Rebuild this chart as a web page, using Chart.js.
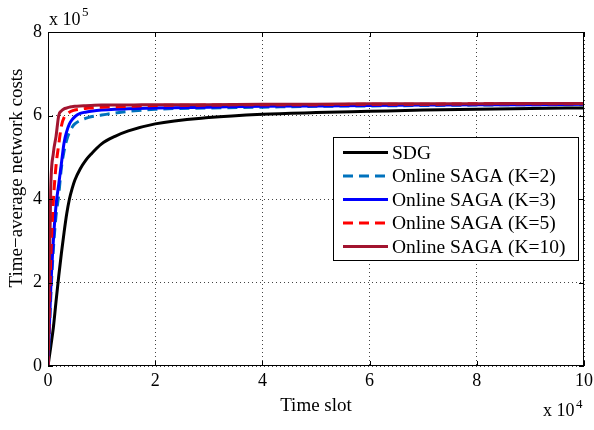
<!DOCTYPE html>
<html>
<head>
<meta charset="utf-8">
<script src="https://cdn.jsdelivr.net/npm/chart.js@4/dist/chart.umd.min.js"></script>
<style>
  html, body { margin: 0; padding: 0; background: #fff; }
  canvas { display: block; }
</style>
</head>
<body>
<canvas id="chart" width="594" height="430"></canvas>
<script>
// time slots in units of 10^4, costs in units of 10^5
const slots = [0, 0.05, 0.1, 0.15, 0.2, 0.25, 0.3, 0.35, 0.4, 0.45, 0.5, 0.6, 0.7, 0.8, 1, 1.25, 1.5, 2, 3, 4, 5, 6, 7, 8, 9, 10]
const sdg     = [0, 0.45, 0.92, 1.55, 2.15, 2.7, 3.2, 3.65, 4.0, 4.25, 4.45, 4.72, 4.92, 5.07, 5.32, 5.5, 5.63, 5.8, 5.95, 6.03, 6.07, 6.1, 6.13, 6.15, 6.17, 6.18]
const sagaK2  = [0, 1.6, 2.8, 3.6, 4.1, 4.75, 5.15, 5.42, 5.6, 5.72, 5.8, 5.88, 5.93, 5.97, 6.01, 6.06, 6.1, 6.15, 6.18, 6.2, 6.22, 6.23, 6.24, 6.25, 6.26, 6.26]
const sagaK3  = [0, 1.8, 3.0, 3.85, 4.35, 4.85, 5.35, 5.62, 5.8, 5.9, 5.97, 6.05, 6.08, 6.1, 6.13, 6.15, 6.16, 6.18, 6.2, 6.22, 6.23, 6.24, 6.25, 6.26, 6.26, 6.27]
const sagaK5  = [0, 2.5, 3.95, 4.8, 5.3, 5.75, 5.95, 6.03, 6.08, 6.11, 6.13, 6.15, 6.17, 6.18, 6.2, 6.21, 6.22, 6.24, 6.25, 6.26, 6.26, 6.27, 6.27, 6.28, 6.28, 6.28]
const sagaK10 = [0, 4.2, 5.1, 5.5, 6.0, 6.11, 6.16, 6.18, 6.2, 6.21, 6.22, 6.23, 6.235, 6.24, 6.25, 6.25, 6.25, 6.26, 6.26, 6.27, 6.27, 6.28, 6.28, 6.28, 6.29, 6.29]
const xTicks = [0, 2, 4, 6, 8, 10]
const yTicks = [0, 2, 4, 6, 8]

const FONT = "'Liberation Serif', 'Times New Roman', serif"

const points = (ys) => slots.map((x, i) => ({ x: x, y: ys[i] }))

const series = [
  { label: 'SDG', data: sdg, color: '#000000', dash: [], order: 4 },
  { label: 'Online SAGA (K=2)', data: sagaK2, color: '#0072BD', dash: [10, 6], order: 3 },
  { label: 'Online SAGA (K=3)', data: sagaK3, color: '#0000FF', dash: [], order: 2 },
  { label: 'Online SAGA (K=5)', data: sagaK5, color: '#FF0000', dash: [10, 6], order: 1 },
  { label: 'Online SAGA (K=10)', data: sagaK10, color: '#A2142F', dash: [], order: 0 },
]

// frame, inward ticks, exponents, axis titles and legend, matlab style
const decorations = {
  id: 'decorations',
  afterDraw(chart) {
    const { ctx, chartArea: a, scales } = chart
    ctx.save()
    ctx.strokeStyle = '#000'
    ctx.lineWidth = 1
    ctx.setLineDash([])
    ctx.strokeRect(a.left + 0.5, a.top + 0.5, a.right - a.left - 1, a.bottom - a.top - 1)

    ctx.beginPath()
    xTicks.forEach((t) => {
      const px = Math.round(scales.x.getPixelForValue(t)) + 0.5
      ctx.moveTo(px, a.bottom); ctx.lineTo(px, a.bottom - 5)
      ctx.moveTo(px, a.top); ctx.lineTo(px, a.top + 5)
    })
    yTicks.forEach((t) => {
      const py = Math.round(scales.y.getPixelForValue(t)) + 0.5
      ctx.moveTo(a.left, py); ctx.lineTo(a.left + 5, py)
      ctx.moveTo(a.right, py); ctx.lineTo(a.right - 5, py)
    })
    ctx.stroke()

    ctx.fillStyle = '#000'
    ctx.textBaseline = 'alphabetic'
    ctx.textAlign = 'left'
    ctx.font = '18px ' + FONT
    ctx.fillText('x 10', 49, 25)
    ctx.fillText('x 10', 543, 416)
    ctx.font = '13px ' + FONT
    ctx.fillText('5', 82, 16)
    ctx.fillText('4', 576, 408)

    ctx.font = '19px ' + FONT
    ctx.textAlign = 'center'
    ctx.textBaseline = 'middle'
    ctx.fillText('Time slot', (a.left + a.right) / 2, 406)
    ctx.save()
    ctx.translate(17, 178)
    ctx.rotate(-Math.PI / 2)
    ctx.fillText('Time\u2212average network costs', 0, 0)
    ctx.restore()

    // legend
    const lx = 333, ly = 137, lw = 245, lh = 123
    ctx.fillStyle = '#fff'
    ctx.fillRect(lx, ly, lw, lh)
    ctx.strokeStyle = '#000'
    ctx.lineWidth = 1
    ctx.strokeRect(lx + 0.5, ly + 0.5, lw, lh)
    ctx.font = '19.5px ' + FONT
    ctx.textAlign = 'left'
    series.forEach((s, i) => {
      const y = 152.5 + i * 23.5
      ctx.beginPath()
      ctx.strokeStyle = s.color
      ctx.lineWidth = 3
      ctx.setLineDash(s.dash)
      ctx.moveTo(343, y); ctx.lineTo(388, y)
      ctx.stroke()
      ctx.setLineDash([])
      ctx.fillStyle = '#000'
      ctx.fillText(s.label, 392, y + 1)
    })
    ctx.restore()
  },
}

new Chart(document.getElementById('chart'), {
  type: 'line',
  data: {
    datasets: series.map((s) => ({
      label: s.label,
      data: points(s.data),
      borderColor: s.color,
      borderWidth: 3,
      borderDash: s.dash,
      pointRadius: 0,
      fill: false,
      cubicInterpolationMode: 'monotone',
      order: s.order,
    })),
  },
  options: {
    responsive: false,
    animation: false,
    layout: { padding: { top: 32, right: 10, left: 0, bottom: 0 } },
    plugins: { legend: { display: false }, tooltip: { enabled: false } },
    scales: {
      x: {
        type: 'linear',
        min: 0,
        max: 10,
        afterBuildTicks: (scale) => { scale.ticks = xTicks.map((v) => ({ value: v })) },
        afterFit: (scale) => { scale.height = 64; scale.paddingRight = 0; scale.paddingLeft = 0 },
        ticks: { color: '#000', font: { family: FONT, size: 18 }, padding: 4, maxRotation: 0 },
        grid: { color: '#444', lineWidth: 1, drawTicks: false },
        border: { display: false, dash: [1, 3] },
      },
      y: {
        min: 0,
        max: 8,
        afterBuildTicks: (scale) => { scale.ticks = yTicks.map((v) => ({ value: v })) },
        afterFit: (scale) => { scale.width = 48; scale.paddingTop = 0; scale.paddingBottom = 0 },
        ticks: { color: '#000', font: { family: FONT, size: 18 }, padding: 6 },
        grid: { color: '#444', lineWidth: 1, drawTicks: false },
        border: { display: false, dash: [1, 3] },
      },
    },
  },
  plugins: [decorations],
})
</script>
</body>
</html>
